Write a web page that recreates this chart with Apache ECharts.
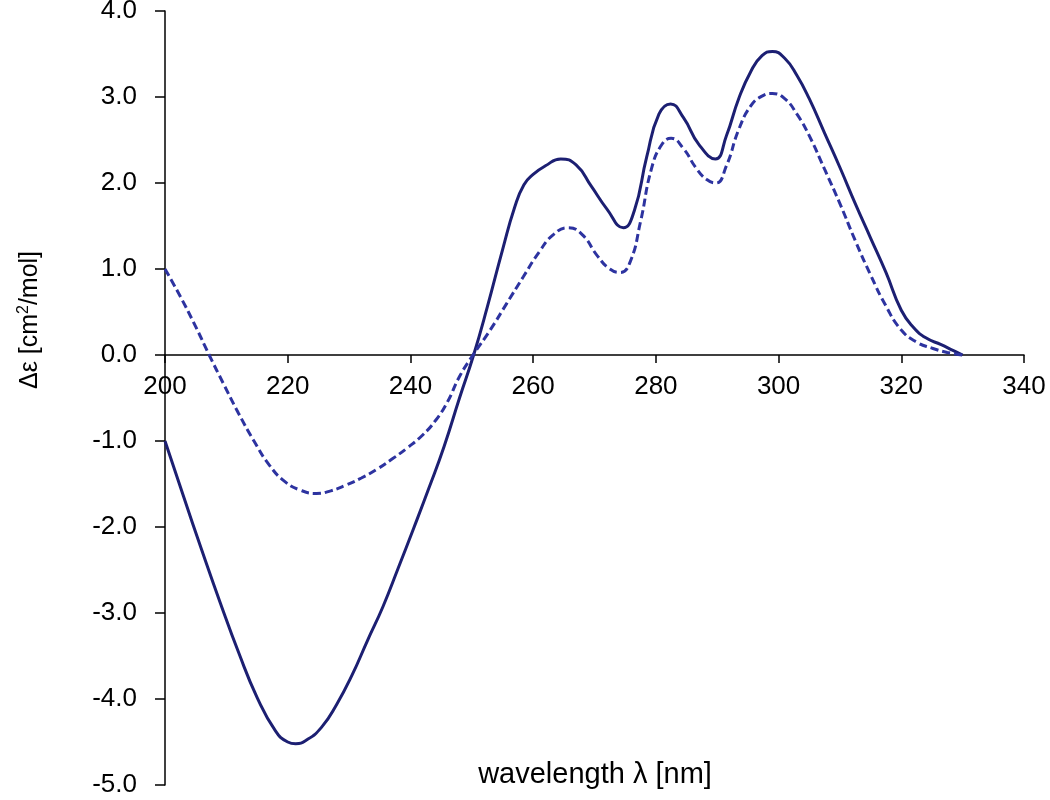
<!DOCTYPE html>
<html>
<head>
    <meta charset="UTF-8">
    <title>CD spectrum</title>
    <script src="https://cdn.jsdelivr.net/npm/echarts@6/dist/echarts.min.js"></script>
    <style>
        html, body { margin: 0; padding: 0; background: #fff; }
    </style>
</head>
<body>
    <div id="main" style="width: 1050px;height:800px;"></div>
    <script type="text/javascript">
        // 实线 (solid curve)
        var solidX = [200, 203, 206, 209, 212, 215, 218, 220, 221.3, 223, 225.5, 228, 230.5, 233, 235.5, 238, 240.5, 243, 245.5, 248, 250.3,
            252.5, 255, 257, 258.5, 260, 262, 264.5, 267, 269.5, 272, 274.7, 276.5, 278.5, 280.5, 282.4, 284.5, 287, 289.7,
            291.5, 293.5, 295.5, 297.3, 299, 301, 303, 305, 307.5, 310, 312.5, 315, 317.5, 320, 322, 324, 326.5, 328.5, 330];
        var solidY = [-1.0, -1.64, -2.27, -2.88, -3.46, -3.98, -4.37, -4.50, -4.52, -4.48, -4.33, -4.06, -3.72, -3.32, -2.93, -2.48, -2.02, -1.55, -1.06, -0.50, 0,
            0.55, 1.22, 1.72, 1.98, 2.10, 2.20, 2.28, 2.21, 1.96, 1.70, 1.48, 1.68, 2.30, 2.80, 2.92, 2.76, 2.45, 2.28,
            2.55, 2.98, 3.30, 3.48, 3.53, 3.45, 3.25, 2.98, 2.58, 2.18, 1.76, 1.36, 0.96, 0.52, 0.32, 0.20, 0.12, 0.05, 0];

        // 虚线 (dashed curve)
        var dashX = [200, 202.5, 205, 207.2, 209.5, 212, 214.5, 217, 219.5, 222, 224.7, 227, 229.6, 232, 234.5, 237, 239.5, 242, 244, 246, 248, 250.2,
            253, 255.7, 258.4, 261, 263.3, 265.7, 268, 270.5, 272.5, 274.2, 275.8, 277.5, 279.3, 281, 282.5, 284.5, 286.5, 288.3, 289.8,
            291.5, 293.5, 295.5, 297.3, 299, 301, 303, 305, 307.5, 310, 312.5, 315, 317.5, 320, 322.5, 325, 327.5, 330];
        var dashY = [1.0, 0.68, 0.33, 0, -0.33, -0.68, -1.0, -1.28, -1.47, -1.57, -1.61, -1.58, -1.51, -1.43, -1.33, -1.21, -1.08, -0.93, -0.77, -0.55, -0.25, 0,
            0.29, 0.60, 0.91, 1.20, 1.40, 1.48, 1.40, 1.15, 1.00, 0.96, 1.08, 1.55, 2.17, 2.45, 2.52, 2.40, 2.18, 2.04, 2.0,
            2.20, 2.62, 2.90, 3.01, 3.04, 2.98, 2.80, 2.55, 2.16, 1.76, 1.33, 0.93, 0.57, 0.29, 0.15, 0.08, 0.03, 0];

        function pairs(xs, ys) {
            var out = [];
            for (var i = 0; i < xs.length; i++) {
                out.push([xs[i], ys[i]]);
            }
            return out;
        }

        var myChart = echarts.init(document.getElementById('main'));
        var font = 'Liberation Sans, Arial, sans-serif';

        // 网格: 上11 下15 → y=0 在 355px, 距底边 430px
        myChart.setOption({
            animation: false,
            grid: { left: 165, right: 26, top: 11, bottom: 15, containLabel: false, outerBoundsMode: 'none' },
            xAxis: {
                type: 'value',
                min: 200,
                max: 340,
                interval: 20,
                position: 'bottom',
                offset: -430,
                axisLine: { onZero: false, lineStyle: { color: '#000', width: 1.5 } },
                axisTick: { show: true, inside: false, length: 8, lineStyle: { color: '#000', width: 1.5 } },
                axisLabel: { fontSize: 26, color: '#000', fontFamily: font, margin: 19, showMinLabel: true, showMaxLabel: true },
                splitLine: { show: false }
            },
            yAxis: {
                type: 'value',
                min: -5,
                max: 4,
                interval: 1,
                axisLine: { show: true, lineStyle: { color: '#000', width: 1.5 } },
                axisTick: { show: true, inside: false, length: 10, lineStyle: { color: '#000', width: 1.5 } },
                axisLabel: {
                    fontSize: 26, color: '#000', fontFamily: font, margin: 28,
                    formatter: function (v) { return v.toFixed(1); }
                },
                splitLine: { show: false }
            },
            graphic: [{
                type: 'text',
                x: 30,
                y: 320,
                rotation: Math.PI / 2,
                style: {
                    text: 'Δε [cm{sup|2}/mol]',
                    font: '25px ' + font,
                    fill: '#000',
                    align: 'center',
                    verticalAlign: 'middle',
                    rich: {
                        sup: { fontSize: 16, fill: '#000', verticalAlign: 'top', padding: [0, 0, 13, 0] }
                    }
                }
            }, {
                type: 'text',
                x: 595,
                y: 775,
                style: {
                    text: 'wavelength λ [nm]',
                    font: '29px ' + font,
                    fill: '#000',
                    align: 'center',
                    verticalAlign: 'middle'
                }
            }],
            series: [
                {
                    type: 'line',
                    data: pairs(solidX, solidY),
                    smooth: 0.5,
                    showSymbol: false,
                    lineStyle: { color: '#1c1f72', width: 3 }
                },
                {
                    type: 'line',
                    data: pairs(dashX, dashY),
                    smooth: 0.5,
                    showSymbol: false,
                    lineStyle: { color: '#2d33a0', width: 3, type: [8, 4] }
                }
            ]
        });
    </script>
</body>
</html>
